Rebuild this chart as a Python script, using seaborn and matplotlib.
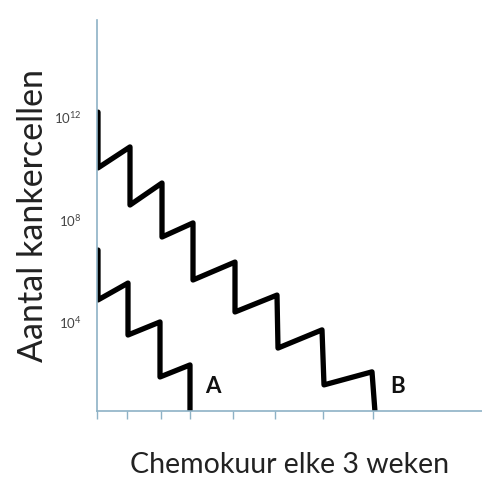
import numpy as np
import pandas as pd
import seaborn as sns
import matplotlib
matplotlib.use("Agg")
import matplotlib.pyplot as plt

# Data: time (arbitrary units) and log10 of number of cancer cells --------
a_time = [0.1, 0.1, 3.1, 3.1, 6.3, 6.3, 9.3, 9.3]
a_log_cells = [6.81, 4.86, 5.52, 3.49, 4.0, 1.85, 2.32, 0.45]

b_time = [0.1, 0.1, 3.3, 3.3, 6.5, 6.5, 9.6, 9.6,
          13.8, 13.8, 18.0, 18.1, 22.5, 22.7, 27.5, 27.8]
b_log_cells = [12.2, 10.02, 10.84, 8.57, 9.43, 7.32, 7.87, 5.64,
               6.34, 4.39, 5.05, 2.98, 3.69, 1.54, 2.05, 0.48]

x_ticks = [0, 3.0, 6.4, 9.3, 13.6, 17.8, 22.6, 27.6]
y_ticks = [4, 8, 12]
y_tick_labels = ["10$^{4}$", "10$^{8}$", "10$^{12}$"]

curves = pd.concat([
    pd.DataFrame({"t": a_time, "logc": a_log_cells, "kuur": "A"}),
    pd.DataFrame({"t": b_time, "logc": b_log_cells, "kuur": "B"}),
], ignore_index=True)

# Figure ------------------------------------------------------------------
sns.set_theme(style="white")
plt.rcParams['font.family'] = ['Lato', 'DejaVu Sans']
plt.rcParams['mathtext.fontset'] = 'custom'
plt.rcParams['mathtext.rm'] = 'Lato'

axis_col = "#8eb2c6"
fig = plt.figure(figsize=(4.82, 4.79), dpi=100)
ax = fig.add_axes([97 / 482, 1 - 411 / 479, (482 - 97) / 482, (411 - 20) / 479])

for name, grp in curves.groupby("kuur"):
    sns.lineplot(data=grp, x="t", y="logc", sort=False, estimator=None,
                 color="black", linewidth=3.8, ax=ax)
    ax.text(grp["t"].iloc[-1] + 1.5, 1.05, name, fontsize=16,
            fontweight="bold", ha="left", va="bottom", color="#111111")

ax.set_xlim(0, 38.5)
ax.set_ylim(0.52, 15.8)
sns.despine(ax=ax)
for side in ["left", "bottom"]:
    ax.spines[side].set_color(axis_col)
    ax.spines[side].set_linewidth(1.2)

ax.set_xticks(x_ticks)
ax.set_xticklabels([])
ax.tick_params(axis="x", bottom=True, direction="out", length=6,
               width=1, color=axis_col)
ax.set_yticks(y_ticks)
ax.set_yticklabels(y_tick_labels, fontsize=9.5, color="#444444")
ax.tick_params(axis="y", left=False, pad=5)

ax.set_xlabel("")
ax.set_ylabel("")
fig.text(33 / 482, 1 - 215 / 479, "Aantal kankercellen", rotation=90,
         fontsize=24.5, ha="center", va="center", color="#222222")
fig.text(290 / 482, 1 - 465 / 479, "Chemokuur elke 3 weken",
         fontsize=20.5, ha="center", va="center", color="#222222")

fig.savefig("out.png", dpi=100)
